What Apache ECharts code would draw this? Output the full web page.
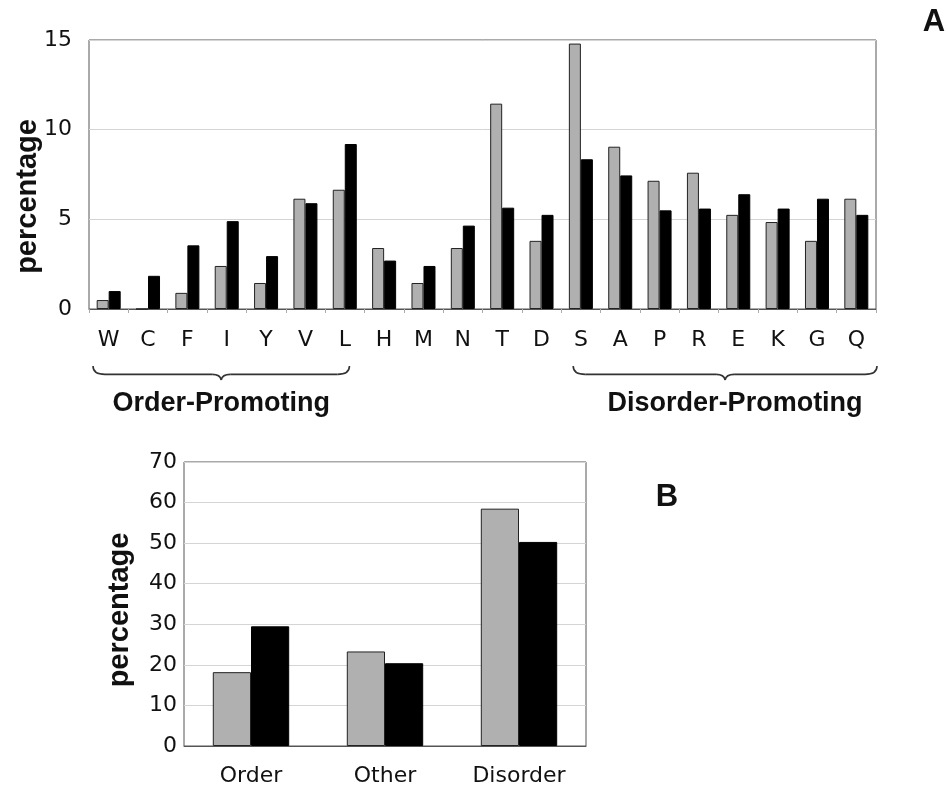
<!DOCTYPE html>
<html><head><meta charset="utf-8">
<script src="https://cdn.jsdelivr.net/npm/echarts@6/dist/echarts.min.js"></script>
<style>html,body{margin:0;padding:0;background:#fff}#c{width:948px;height:789px}</style>
</head><body><div id="c"></div>
<script>
// Panel A data
const aminoAcids = ['W','C','F','I','Y','V','L','H','M','N','T','D','S','A','P','R','E','K','G','Q'];
const seriesGrayA  = [0.5, 0, 0.9, 2.4, 1.45, 6.15, 6.65, 3.4, 1.45, 3.4, 11.45, 3.8, 14.8, 9.05, 7.15, 7.6, 5.25, 4.85, 3.8, 6.15];
const seriesBlackA = [1.0, 1.85, 3.55, 4.9, 2.95, 5.9, 9.2, 2.7, 2.4, 4.65, 5.65, 5.25, 8.35, 7.45, 5.5, 5.6, 6.4, 5.6, 6.15, 5.25];
const ticksA = [0, 5, 10, 15];
// Panel B data
const groups = ['Order', 'Other', 'Disorder'];
const seriesGrayB  = [18.2, 23.3, 58.5];
const seriesBlackB = [29.5, 20.4, 50.3];
const ticksB = [0, 10, 20, 30, 40, 50, 60, 70];

const FONT = '"DejaVu Sans", sans-serif';
const BFONT = '"Liberation Sans", Arial, sans-serif';
const gray = '#b0b0b0';
const chart = echarts.init(document.getElementById('c'), null, {renderer: 'canvas'});

const yAxisCommon = {
  type: 'value',
  axisLine: {show: false},
  axisTick: {show: false},
  splitLine: {show: true, lineStyle: {color: '#d4d4d4', width: 1}},
  axisLabel: {color: '#111', fontFamily: FONT},
  nameLocation: 'middle',
  nameRotate: 90,
  nameMoveOverlap: false,
  nameTextStyle: {color: '#111', fontFamily: BFONT, fontWeight: 'bold', fontSize: 29}
};
const xAxisCommon = {
  type: 'category',
  axisLine: {show: true, lineStyle: {color: '#555'}},
  axisTick: {show: true, alignWithLabel: false, length: 4, lineStyle: {color: '#aaa'}},
  axisLabel: {color: '#111', fontFamily: FONT, fontSize: 22}
};

chart.setOption({
  animation: false,
  backgroundColor: '#fff',
  grid: [
    {left: 89, top: 40, width: 787, height: 269, show: true, borderColor: '#555', borderWidth: 1, containLabel: false},
    {left: 184, top: 462, width: 402, height: 284, show: true, borderColor: '#555', borderWidth: 1, containLabel: false}
  ],
  xAxis: [
    Object.assign({}, xAxisCommon, {gridIndex: 0, data: aminoAcids, axisLabel: Object.assign({}, xAxisCommon.axisLabel, {margin: 20})}),
    Object.assign({}, xAxisCommon, {gridIndex: 1, data: groups, axisTick: {show: false}, axisLabel: Object.assign({}, xAxisCommon.axisLabel, {margin: 19, fontSize: 22})})
  ],
  yAxis: [
    Object.assign({}, yAxisCommon, {gridIndex: 0, min: ticksA[0], max: ticksA[ticksA.length-1], interval: 5,
      name: 'percentage', nameGap: 47,
      nameTextStyle: Object.assign({}, yAxisCommon.nameTextStyle, {padding: [0, 44, 0, 0]}),
      axisLabel: Object.assign({}, yAxisCommon.axisLabel, {fontSize: 22, margin: 17})}),
    Object.assign({}, yAxisCommon, {gridIndex: 1, min: ticksB[0], max: ticksB[ticksB.length-1], interval: 10,
      name: 'percentage', nameGap: 50,
      nameTextStyle: Object.assign({}, yAxisCommon.nameTextStyle, {padding: [0, 12, 0, 0]}),
      axisLabel: Object.assign({}, yAxisCommon.axisLabel, {fontSize: 22, margin: 7})})
  ],
  series: [
    {type: 'bar', xAxisIndex: 0, yAxisIndex: 0, data: seriesGrayA, barGap: '0%', barCategoryGap: '39%',
      itemStyle: {color: gray, borderColor: '#222', borderWidth: 1}},
    {type: 'bar', xAxisIndex: 0, yAxisIndex: 0, data: seriesBlackA, barGap: '0%', barCategoryGap: '39%',
      itemStyle: {color: '#000', borderColor: '#000', borderWidth: 1}},
    {type: 'bar', xAxisIndex: 1, yAxisIndex: 1, data: seriesGrayB, barGap: '0%', barCategoryGap: '43%',
      itemStyle: {color: gray, borderColor: '#222', borderWidth: 1}},
    {type: 'bar', xAxisIndex: 1, yAxisIndex: 1, data: seriesBlackB, barGap: '0%', barCategoryGap: '43%',
      itemStyle: {color: '#000', borderColor: '#000', borderWidth: 1}}
  ]
});

// Curly braces built from curve + line graphic elements, positioned from the category axis
function brace(x1, x2, y, h) {
  const m = (x1 + x2) / 2, q = y + h * 0.6, b = y + h;
  const st = {fill: null, stroke: '#333', lineWidth: 1.6};
  return [
    {type: 'bezierCurve', shape: {x1: x1, y1: y, x2: x1 + 12, y2: q, cpx1: x1, cpy1: q}, style: st},
    {type: 'line', shape: {x1: x1 + 12, y1: q, x2: m - 9, y2: q}, style: st},
    {type: 'bezierCurve', shape: {x1: m - 9, y1: q, x2: m, y2: b, cpx1: m - 1, cpy1: q}, style: st},
    {type: 'bezierCurve', shape: {x1: m, y1: b, x2: m + 9, y2: q, cpx1: m + 1, cpy1: q}, style: st},
    {type: 'line', shape: {x1: m + 9, y1: q, x2: x2 - 12, y2: q}, style: st},
    {type: 'bezierCurve', shape: {x1: x2 - 12, y1: q, x2: x2, y2: y, cpx1: x2, cpy1: q}, style: st}
  ];
}
const half = 787 / aminoAcids.length / 2;
const px = i => chart.convertToPixel({xAxisIndex: 0}, aminoAcids[i]);
const oL = px(0) - half + 4, oR = px(aminoAcids.indexOf('L')) + half - 15;
const dL = px(aminoAcids.indexOf('S')) - half + 12, dR = px(aminoAcids.length - 1) + half + 1;
const braceY = 366, braceH = 14;
chart.setOption({
  graphic: [].concat(
    brace(oL, oR, braceY, braceH),
    brace(dL, dR, braceY, braceH),
    [
      {type: 'text', x: (oL + oR) / 2, y: 404, style: {text: 'Order-Promoting', fill: '#111', font: 'bold 27px ' + BFONT, textAlign: 'center', textVerticalAlign: 'middle'}},
      {type: 'text', x: (dL + dR) / 2 + 10, y: 404, style: {text: 'Disorder-Promoting', fill: '#111', font: 'bold 27px ' + BFONT, textAlign: 'center', textVerticalAlign: 'middle'}},
      {type: 'text', x: 934, y: 22, style: {text: 'A', fill: '#111', font: 'bold 31px ' + BFONT, textAlign: 'center', textVerticalAlign: 'middle'}},
      {type: 'text', x: 667, y: 497, style: {text: 'B', fill: '#111', font: 'bold 31px ' + BFONT, textAlign: 'center', textVerticalAlign: 'middle'}}
    ]
  )
});
</script>
</body></html>
